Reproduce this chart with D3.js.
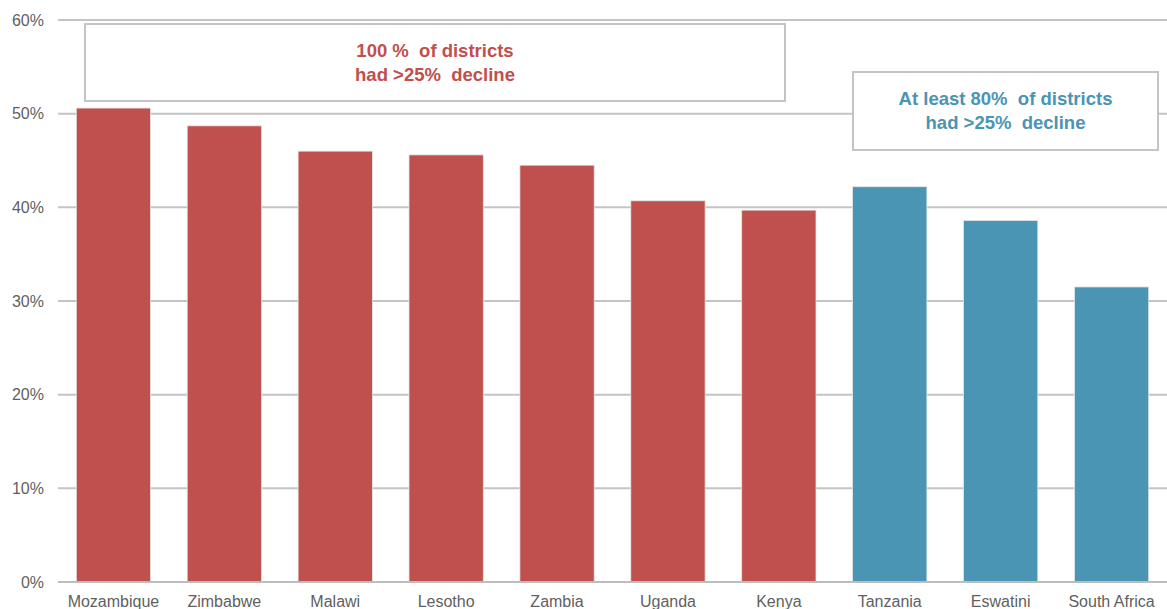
<!DOCTYPE html>
<html><head><meta charset="utf-8">
<script src="https://cdn.jsdelivr.net/npm/d3@7"></script>
<style>body{margin:0;background:#fff;} svg{display:block;font-family:"Liberation Sans",Arial,sans-serif;}</style>
</head><body>
<svg id="c" width="1167" height="609"></svg>
<script>
const categories = ["Mozambique","Zimbabwe","Malawi","Lesotho","Zambia","Uganda","Kenya","Tanzania","Eswatini","South Africa"];
const values = [50.6, 48.7, 46.0, 45.6, 44.5, 40.7, 39.7, 42.2, 38.6, 31.5];
const groups = ["red","red","red","red","red","red","red","blue","blue","blue"];
const yTicks = [0,10,20,30,40,50,60];

const svg = d3.select("#c");
const m = {l:58, r:0, t:20, b:27};
const W = 1167, H = 609;
const x = d3.scaleBand().domain(categories).range([m.l, W - m.r]).paddingInner(0.33).paddingOuter(0.165);
const y = d3.scaleLinear().domain([0,60]).range([582, 20]);
const col = {red:"#c0504d", blue:"#4a94b4"};

// gridlines
svg.append("g").selectAll("line").data(yTicks).join("line")
  .attr("x1", m.l).attr("x2", W).attr("y1", d=>y(d)).attr("y2", d=>y(d))
  .attr("stroke", "#c4c4c4").attr("stroke-width", 2);

// y labels
svg.append("g").selectAll("text").data(yTicks).join("text")
  .attr("x", 44).attr("y", d=>y(d)).attr("dy","0.35em").attr("text-anchor","end")
  .attr("font-size", 16).attr("fill", "#5f5f5f").text(d=>d+"%");

// bars
svg.append("g").selectAll("rect").data(categories).join("rect")
  .attr("x", d=>x(d)).attr("width", x.bandwidth())
  .attr("y", (d,i)=>y(values[i])).attr("height", (d,i)=>y(0)-y(values[i]))
  .attr("fill", (d,i)=>col[groups[i]]).attr("stroke","#e6e6e6").attr("stroke-width",0.8);

// baseline
svg.append("line").attr("x1", m.l).attr("x2", W).attr("y1", y(0)).attr("y2", y(0))
  .attr("stroke", "#bdbdbd").attr("stroke-width", 2);

// x labels
svg.append("g").selectAll("text").data(categories).join("text")
  .attr("x", d=>x(d)+x.bandwidth()/2).attr("y", 601).attr("dy","0.35em").attr("text-anchor","middle")
  .attr("font-size", 16).attr("fill", "#5f5f5f").text(d=>d);

// annotation boxes
const boxes = [
  {x:85, y:24, w:700, h:77, color:col.red, lines:["100 %  of districts","had >25%  decline"]},
  {x:853, y:72, w:305, h:78, color:col.blue, lines:["At least 80%  of districts","had >25%  decline"]}
];
boxes.forEach(b=>{
  svg.append("rect").attr("x",b.x).attr("y",b.y).attr("width",b.w).attr("height",b.h)
    .attr("fill","#fff").attr("stroke","#c4c4c4").attr("stroke-width",2);
  b.lines.forEach((t,i)=>{
    svg.append("text").attr("x", b.x + b.w/2).attr("y", b.y + b.h/2 + (i-0.5)*24).attr("dy","0.35em")
      .attr("text-anchor","middle").attr("font-size",18.5).attr("font-weight","bold")
      .attr("fill", b.color).style("white-space","pre").text(t);
  });
});
</script>
</body></html>
